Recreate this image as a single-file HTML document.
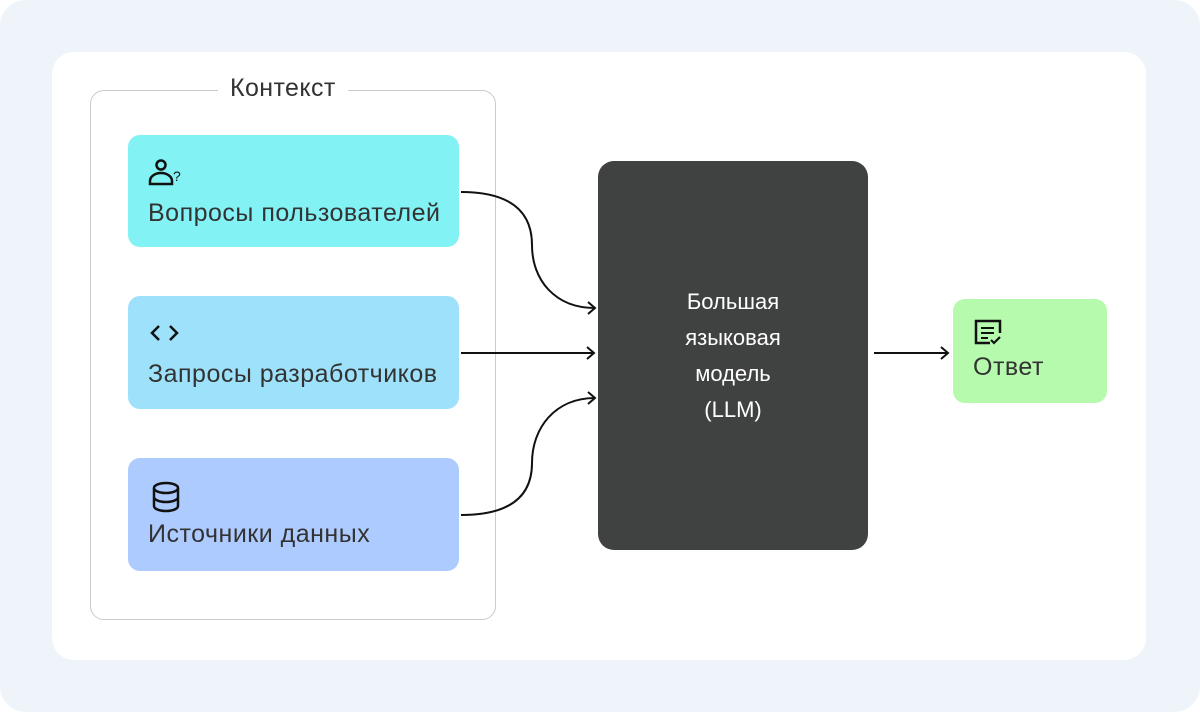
<!DOCTYPE html>
<html><head><meta charset="utf-8"><style>
body{margin:0;width:1200px;height:712px;background:#fff;font-family:"Liberation Sans",sans-serif;position:relative;overflow:hidden}
.outer{position:absolute;left:0;top:0;width:1200px;height:712px;background:#eef4f9;border-radius:26px}
.panel{position:absolute;left:52px;top:52px;width:1094px;height:608px;background:#fff;border-radius:22px}
.ctx{position:absolute;left:90px;top:90px;width:406px;height:530px;border:1.5px solid #c8cbd0;border-radius:14px;box-sizing:border-box}
.lbl{position:absolute;left:218px;top:74px;padding:0 12px;background:#fff;font-size:25px;letter-spacing:0.4px;color:#333}
.box{position:absolute;border-radius:12px;color:#333;font-size:25px;letter-spacing:0.5px}
.box .t{position:absolute;left:20px;white-space:nowrap}
.llm{position:absolute;left:598px;top:161px;width:270px;height:389px;background:#404241;border-radius:16px;color:#fff;font-size:22px;text-align:center;line-height:36px;display:flex;align-items:center;justify-content:center}
svg{position:absolute;left:0;top:0}
</style></head><body>
<div class="outer"></div>
<div class="panel"></div>
<div class="ctx"></div>
<div class="lbl">Контекст</div>
<div class="box" style="left:128px;top:135px;width:331px;height:112px;background:#83f2f5"><span class="t" style="top:64px">Вопросы пользователей</span></div>
<div class="box" style="left:128px;top:296px;width:331px;height:113px;background:#9ee1fa"><span class="t" style="top:64px">Запросы разработчиков</span></div>
<div class="box" style="left:128px;top:458px;width:331px;height:113px;background:#adcbfe"><span class="t" style="top:62px">Источники данных</span></div>
<div class="llm"><div>Большая<br>языковая<br>модель<br>(LLM)</div></div>
<div class="box" style="left:953px;top:299px;width:154px;height:104px;background:#b6fbad"><span class="t" style="top:54px">Ответ</span></div>
<svg width="1200" height="712" fill="none" stroke="#111" stroke-width="2">
<path d="M461 192 C520 192 532 220 532 245 C532 280 555 308 595 308"/>
<path d="M588 302 l7 6 l-7 6"/>
<path d="M461 353 H594"/><path d="M587 347 l7 6 l-7 6"/>
<path d="M461 515 C520 515 532 488 532 463 C532 428 555 398 595 398"/>
<path d="M588 392 l7 6 l-7 6"/>
<path d="M874 353 H948"/><path d="M941 347 l7 6 l-7 6"/>
<circle cx="161" cy="165" r="4.5" stroke-width="2.5"/>
<path d="M150 184 v-3 a11 8 0 0 1 22 0 v3 z" stroke-width="2.5"/>
<text x="173" y="181" font-size="14" fill="#111" stroke="none" font-family="Liberation Sans">?</text>
<path d="M159 326 l-7 7 l7 7 M170 326 l7 7 l-7 7" stroke-width="2.5"/>
<ellipse cx="166" cy="488" rx="12" ry="5" stroke-width="2.5"/>
<path d="M154 488 v18 a12 5 0 0 0 24 0 v-18 M154 497 a12 5 0 0 0 24 0" stroke-width="2.5"/>
<path d="M990 343 h-14 v-22 h24 v12" stroke-width="2.5"/>
<path d="M981 328 h13 M981 333 h13 M981 338 h7" stroke-width="2"/>
<path d="M991 340 l3 3 l6 -6" stroke-width="2.2"/>
</svg>
</body></html>
